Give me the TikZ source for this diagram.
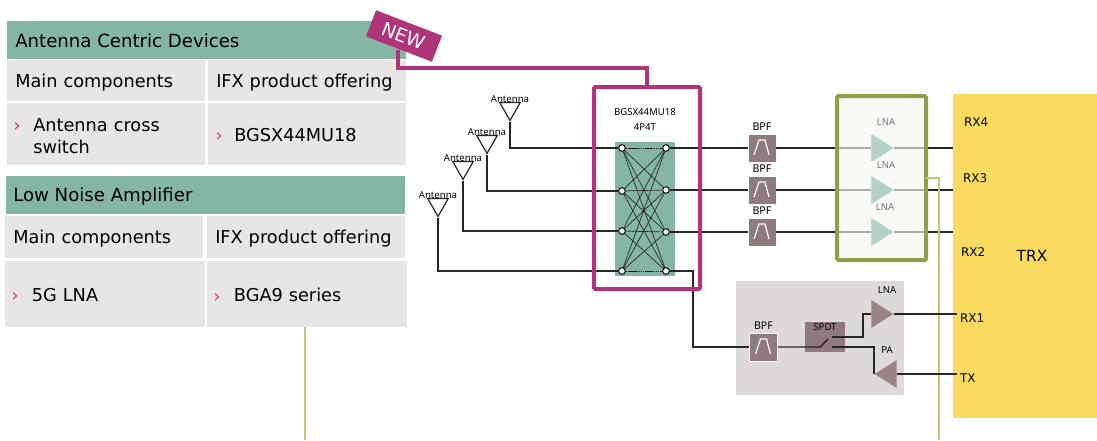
\documentclass[tikz,border=0pt]{standalone}
\usepackage{fontspec}
\setmainfont{DejaVu Sans}
\newfontfamily\smallfont{Noto Sans}
\usetikzlibrary{positioning,shapes.geometric}
\definecolor{headgreen}{HTML}{84B5A5}
\definecolor{cellgray}{HTML}{E8E6E5}
\definecolor{newpink}{HTML}{AE3579}
\definecolor{olivebox}{HTML}{8F9F4A}
\definecolor{olivefill}{HTML}{F6F7F1}
\definecolor{paleline}{HTML}{B8CB75}
\definecolor{trxyellow}{HTML}{FADB5F}
\definecolor{filtergray}{HTML}{8F7B7E}
\definecolor{ampgray}{HTML}{978284}
\definecolor{panelgray}{HTML}{DFDADA}
\definecolor{lnagreen}{HTML}{B3D1C4}
\definecolor{bulletred}{HTML}{D6336C}
\begin{document}
\begin{tikzpicture}[x=0.75pt, y=-0.75pt,
    headbox/.style={fill=headgreen, anchor=west, minimum width=299pt, minimum height=28.5pt, inner sep=0pt},
    headtext/.style={anchor=west, inner sep=0pt, font=\fontsize{13.6}{16}\selectfont},
    textrise/.style={execute at begin node={\rule{0pt}{#1}}},
    cellbox/.style={fill=cellgray, anchor=north west, minimum width=148.5pt, inner xsep=6pt, inner ysep=0pt, text width=136.5pt, align=left, textrise=11.5pt, font=\fontsize{13.3}{16}\selectfont},
    bulletbox/.style={cellbox, inner xsep=19.5pt, text width=109.5pt},
    bulletmark/.style={text=bulletred, inner sep=0pt, font=\fontsize{13}{15}\selectfont},
    lbl/.style={inner sep=0pt, font=\smallfont\fontsize{7.2}{9}\selectfont},
    bpflbl/.style={lbl, font=\smallfont\fontsize{8}{9}\selectfont},
    port/.style={inner ysep=0pt, inner xsep=0pt, outer ysep=0pt, outer xsep=2.25pt, anchor=west, font=\fontsize{9}{11}\selectfont},
    wire/.style={line width=1.05pt, black!85},
    antenna/.style={isosceles triangle, isosceles triangle stretches, shape border rotate=-90, anchor=apex, draw=black!85, line width=0.9pt, fill=white, minimum width=15.5pt, minimum height=13.5pt, inner sep=0pt},
    filterbox/.style={fill=filtergray, draw=white, line width=0.4pt, minimum size=21pt, inner sep=0pt},
    amp/.style={isosceles triangle, isosceles triangle stretches, anchor=apex, minimum width=21pt, minimum height=16.5pt, inner sep=0pt},
    dot/.style={circle, draw=black, fill=white, line width=0.7pt, minimum size=5pt, inner sep=0pt},
    xline/.style={black!90, line width=0.55pt, dash pattern=on 1.2pt off 0.4pt}]
    \useasboundingbox (0,0) rectangle (1097,440);

    % left tables
    \draw[paleline, line width=2.2pt] (305,326) -- (305,440);
    \node (head1) [headbox] at (7,39.5) {};
    \node (headtext1) [headtext] at (15,40.5) {Antenna Centric Devices};
    \node (main1) [cellbox, textrise=13pt, minimum height=30.5pt] at (7,60) {Main components};
    \node (offer1) [cellbox, textrise=13pt, minimum height=30.5pt] at (208,60) {IFX product offering};
    \node (part1) [bulletbox, textrise=13pt, minimum height=46pt] at (7,103) {Antenna cross switch};
    \node (prod1) [bulletbox, minimum height=46pt] at (208,103) {BGSX44MU18};
    \node (mark1) [bulletmark] at (17,127) {›};
    \node (mark2) [bulletmark] at (219,137) {›};
    \node (head2) [headbox] at (6,194.5) {};
    \node (headtext2) [headtext] at (13,196) {Low Noise Amplifier};
    \node (main2) [cellbox, minimum height=31.5pt] at (5,216) {Main components};
    \node (offer2) [cellbox, minimum height=31.5pt] at (207,216) {IFX product offering};
    \node (part2) [bulletbox, inner xsep=20pt, minimum height=49pt] at (5,261) {5G LNA};
    \node (prod2) [bulletbox, inner xsep=20pt, minimum height=49pt] at (207,261) {BGA9 series};
    \node (mark3) [bulletmark] at (15,297) {›};
    \node (mark4) [bulletmark] at (217,298) {›};

    % trx block
    \node (trx) [fill=trxyellow, anchor=north west, minimum width=108pt, minimum height=243pt, inner sep=0pt] at (953,94) {};
    \node (trxname) [inner sep=0pt, font=\fontsize{11.5}{14}\selectfont] at (1032,256) {TRX};
    \node (rxfour) [port] at (961,122) {RX4};
    \node (rxthree) [port] at (960,178) {RX3};
    \node (rxtwo) [port] at (958,252) {RX2};
    \node (rxone) [port] at (957,318) {RX1};
    \node (txport) [port] at (957,378) {TX};

    % switch matrix
    \node (matrix) [fill=headgreen, anchor=north west, minimum width=44.5pt, minimum height=100pt, inner sep=0pt] at (615,142) {};
    \foreach \n/\y in {1/148,2/191,3/231,4/271}
        \node (in\n) [dot] at (622,\y) {};
    \foreach \n/\y in {1/148,2/190,3/232,4/271}
        \node (out\n) [dot] at (666,\y) {};
    \foreach \l in {1,...,4}
        \foreach \r in {1,...,4}
            \draw[xline] (in\l) -- (out\r);

    % antennas
    \foreach \n/\x/\y in {1/510/122,2/487/155,3/463/181,4/438/218} {
        \node (ant\n) [antenna] at (\x,\y) {};
        \node (antlbl\n) [lbl, above=-0.5pt of ant\n.north] {Antenna};
        \draw[wire] (ant\n.apex) |- (in\n);
    }

    % filters in the rx paths
    \foreach \n/\y in {1/148,2/190,3/232} {
        \node (bpf\n) [filterbox] at (762,\y) {};
        \node (bpflbl\n) [bpflbl, above=2.5pt of bpf\n] {BPF};
        \node (lna\n) [amp, fill=lnagreen] at (894,\y) {};
        \draw[wire] (out\n) -- (bpf\n);
        \draw[wire] (bpf\n) -- (lna\n);
        \draw[wire] (lna\n.apex) -- (lna\n.apex -| trx.west);
    }

    % olive frame, lines stay faintly visible under it
    \node (lnaframe) [draw=olivebox, line width=3pt, outer sep=0pt, fill=olivefill, fill opacity=0.65, rounded corners=1pt, anchor=north west, minimum width=66.75pt, minimum height=123pt, inner sep=0pt] at (837,96) {};
    \foreach \n/\x/\y in {1/886/122,2/886/165,3/885/207}
        \node (lnalbl\n) [lbl, text=black!55] at (\x,\y) {LNA};
    \foreach \n/\y in {1/148,2/190,3/232}
        \node (lnatop\n) [amp, fill=lnagreen] at (894,\y) {};
    \coordinate (feed) at (939,178);
    \draw[paleline, line width=1.6pt] (lnaframe.east |- feed) -- (feed) -- (939,440);

    % rx1 and tx path
    \node (panel) [fill=panelgray, anchor=north west, minimum width=125.5pt, minimum height=85pt, inner sep=0pt] at (736,281) {};
    \node (bpf4) [filterbox] at (763.5,347) {};
    \node (bpflbl4) [bpflbl, above=2.5pt of bpf4] {BPF};
    \node (spdt) [fill=filtergray, anchor=north west, minimum width=29.5pt, minimum height=22.5pt, inner sep=0pt] at (805,322) {};
    \node (spdtlbl) [lbl] at (825,327) {SPDT};
    \node (lnaup) [amp, fill=ampgray] at (894,314) {};
    \node (lnauplbl) [lbl] at (887,290) {LNA};
    \node (pa) [amp, fill=ampgray, shape border rotate=180] at (874,374) {};
    \node (palbl) [lbl] at (887,350) {PA};
    \coordinate (swin) at (820,347);
    \coordinate (swarm) at (828,339);
    \coordinate (swup) at (832,337);
    \coordinate (swdown) at (832,347);
    \draw[wire] (out4) -| (693,347) -- (bpf4);
    \draw[wire] (bpf4) -- (swin) -- (swarm);
    \draw[wire] (swup) -- (863,337) |- (lnaup);
    \draw[wire] (swdown) -| (pa.apex);
    \draw[wire] (lnaup.apex) -- (lnaup.apex -| rxone.west);
    \draw[wire] (pa.east) -- (pa.east -| txport.west);

    % band pass sign
    \foreach \n in {1,2,3,4}
        \draw[white, line width=0.9pt] ([shift={(-8,7)}]bpf\n.center) -- ([shift={(-3,-8)}]bpf\n.center) -- ([shift={(3,-8)}]bpf\n.center) -- ([shift={(7,7)}]bpf\n.center);

    % magenta frame and tag
    \coordinate (tagfoot) at (398,50);
    \node (crossframe) [draw=newpink, line width=3pt, outer sep=0pt, rounded corners=1pt, anchor=north west, minimum width=79.5pt, minimum height=151.5pt, inner sep=0pt] at (594,87) {};
    \draw[newpink, line width=2.6pt] (tagfoot) |- (crossframe.north |- 0,68) -- (crossframe.north);
    \node (switchname) [lbl, align=center, font=\smallfont\fontsize{7.2}{11}\selectfont] at (645,119.5) {BGSX44MU18\\4P4T};
    \node (newtag) [fill=newpink, text=white, rotate=-21, minimum width=53pt, minimum height=21pt, inner sep=0pt, font=\fontsize{14.2}{16}\selectfont] at (404,36) {NEW};
\end{tikzpicture}
\end{document}
